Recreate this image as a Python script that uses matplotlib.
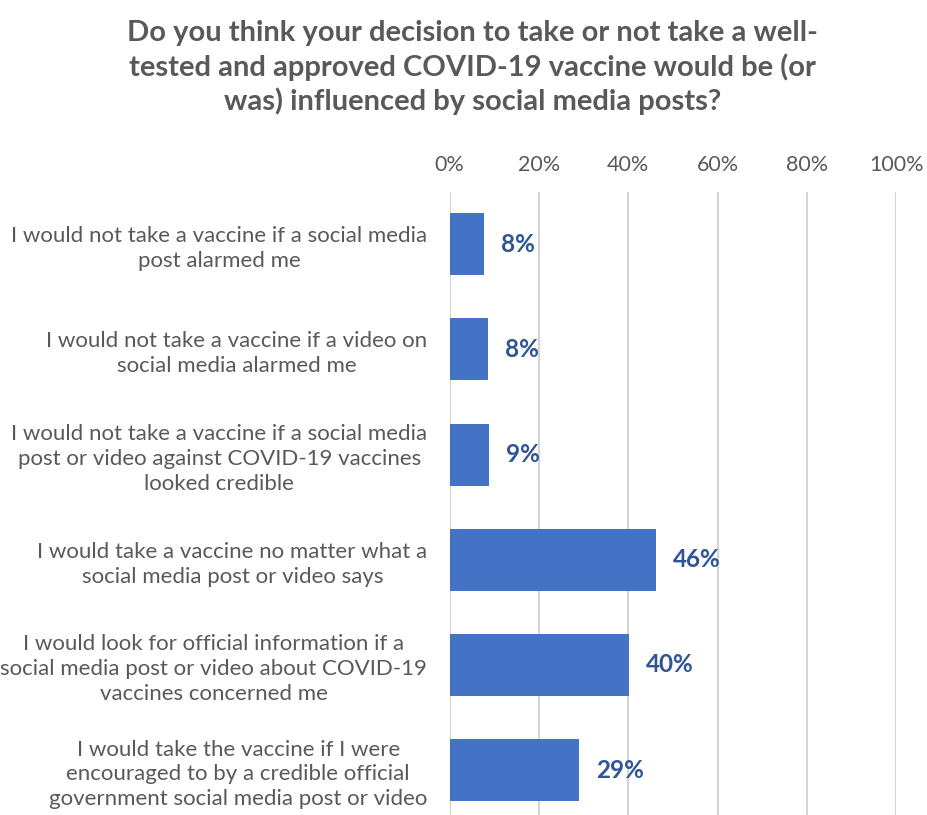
import matplotlib.pyplot as plt

plt.rcParams['font.family'] = ['Lato', 'DejaVu Sans']

categories = [
    "I would not take a vaccine if a social media\npost alarmed me",
    "I would not take a vaccine if a video on\nsocial media alarmed me",
    "I would not take a vaccine if a social media\npost or video against COVID-19 vaccines\nlooked credible",
    "I would take a vaccine no matter what a\nsocial media post or video says",
    "I would look for official information if a\nsocial media post or video about COVID-19\nvaccines concerned me",
    "I would take the vaccine if I were\nencouraged to by a credible official\ngovernment social media post or video",
]
values = [7.7, 8.5, 8.9, 46.1, 40.1, 28.9]
labels = ['8%', '8%', '9%', '46%', '40%', '29%']
xticks = [0, 20, 40, 60, 80, 100]

title = ("Do you think your decision to take or not take a well-\n"
         "tested and approved COVID-19 vaccine would be (or\n"
         "was) influenced by social media posts?")

fig = plt.figure(figsize=(9.27, 8.15), dpi=100)
ax = fig.add_axes([0.485, -0.0093, 0.482, 0.774])

y = list(range(len(categories)))
ax.barh(y, values, height=0.59, color='#4472C4', zorder=3)
for yi, v, lab in zip(y, values, labels):
    ax.text(v + 3.8, yi, lab, va='center', ha='left', fontsize=17.5,
            fontweight='bold', color='#2F5597')

ax.set_xlim(0, 100)
ax.set_ylim(5.5, -0.5)
ax.set_xticks(xticks)
ax.set_xticklabels([f'{t}%' for t in xticks])
ax.xaxis.tick_top()
ax.tick_params(axis='x', length=0, pad=12, labelsize=15.5, labelcolor='#595959')
ax.set_yticks(y)
ax.set_yticklabels(categories, fontsize=16, color='#595959',
                   multialignment='center', linespacing=1.3)
ax.tick_params(axis='y', length=0, pad=16)
ax.grid(axis='x', color='#D4D4D4', linewidth=1.5, zorder=0)
for s in ax.spines.values():
    s.set_visible(False)

fig.text(0.51, 0.975, title, ha='center', va='top', fontsize=21, fontweight='bold',
         color='#595959', linespacing=1.3)

fig.savefig('out.png', dpi=100)
